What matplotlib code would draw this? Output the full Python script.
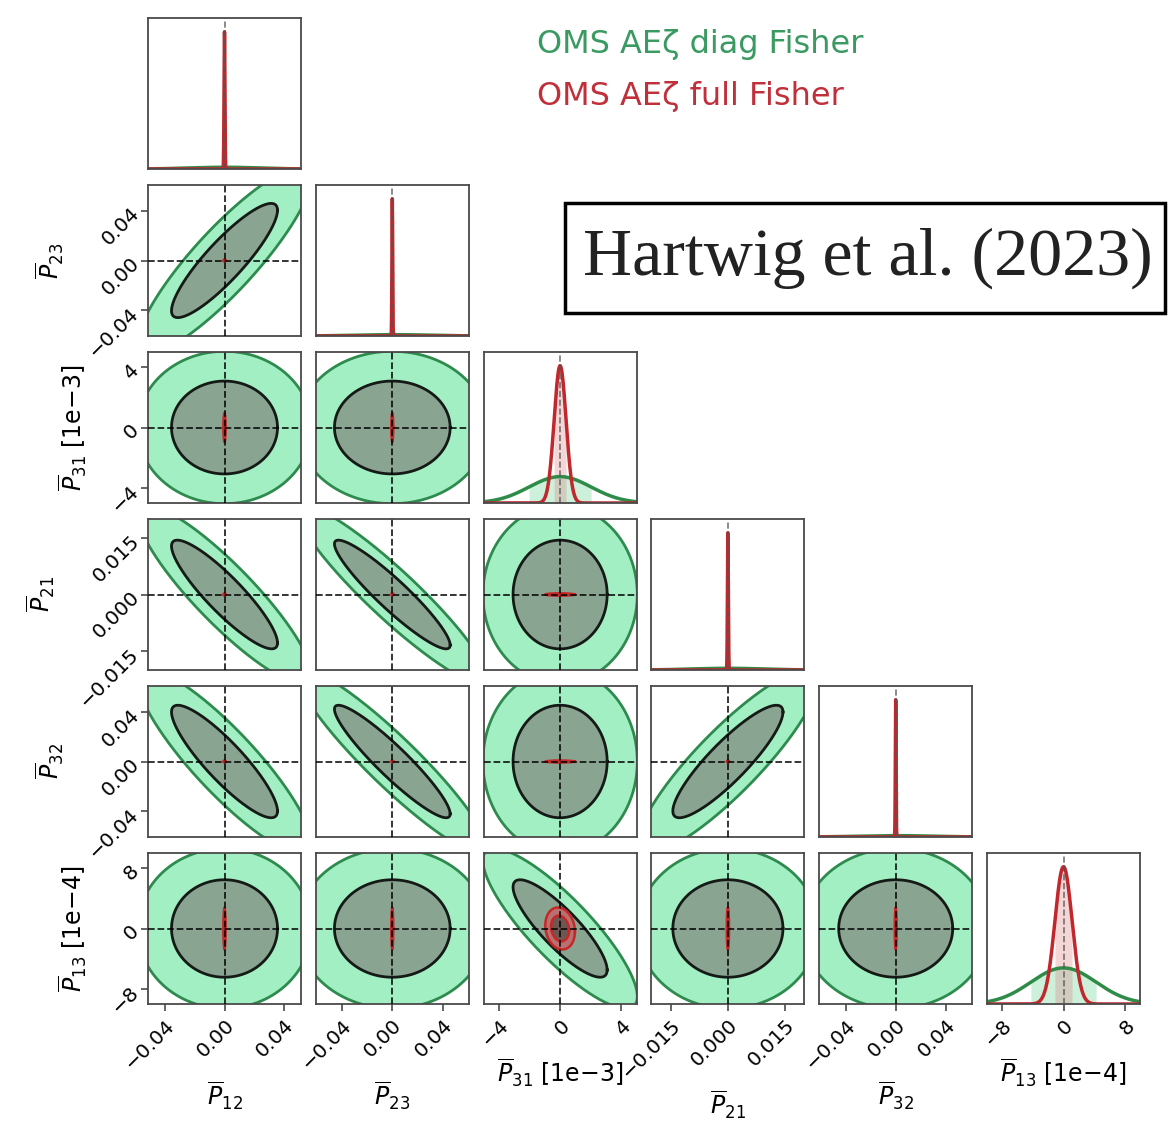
import numpy as np
import matplotlib
matplotlib.use("Agg")
import matplotlib.pyplot as plt
from matplotlib.patches import Rectangle

# ---------------- data ----------------
params = ["P12", "P23", "P31", "P21", "P32", "P13"]
axis_labels = [r"$\overline{P}_{12}$", r"$\overline{P}_{23}$",
               r"$\overline{P}_{31}$ [1e$-$3]", r"$\overline{P}_{21}$",
               r"$\overline{P}_{32}$", r"$\overline{P}_{13}$ [1e$-$4]"]
truth = [0.0, 0.0, 0.0, 0.0, 0.0, 0.0]
# marginal standard deviations (P31 in 1e-3, P13 in 1e-4 units)
sigma_diag = [0.0235, 0.0302, 2.03, 0.00955, 0.0300, 4.26]
sigma_full = [0.0003, 0.0003, 0.39, 0.00012, 0.0003, 1.12]
# correlation coefficients (pairs not listed are zero)
corr_diag = {(0, 1): 0.88, (0, 3): -0.89, (0, 4): -0.88, (1, 3): -0.93,
             (1, 4): -0.93, (3, 4): 0.88, (2, 5): -0.85}
corr_full = {(2, 5): -0.15}
half_range = [0.0514, 0.0605, 5.0, 0.0201, 0.061, 10.0]
tick_values = [[-0.04, 0, 0.04], [-0.04, 0, 0.04], [-4, 0, 4],
               [-0.015, 0, 0.015], [-0.04, 0, 0.04], [-8, 0, 8]]
tick_labels = [["−0.04", "0.00", "0.04"], ["−0.04", "0.00", "0.04"],
               ["−4", "0", "4"], ["−0.015", "0.000", "0.015"],
               ["−0.04", "0.00", "0.04"], ["−8", "0", "8"]]
legend_names = ["OMS AEζ diag Fisher", "OMS AEζ full Fisher"]
levels = [0.6827, 0.9545]
citation = "Hartwig et al. (2023)"

# ---------------- styles ----------------
styles = [
    dict(line="#2e8b48", fill1d="#6fd497", fill_alpha=0.35, out_fill="#a3efc4", out_edge="#2e8b4e",
         in_fill="#89a592", in_edge="#151a16", text="#3a9a62", lw2d=2.0),
    dict(line="#c0282d", fill1d="#e08a8a", fill_alpha=0.35, out_fill="#b87070", out_edge="#c62828",
         in_fill="#6e5652", in_edge="#c62828", text="#c0303a", lw2d=1.8),
]


def cov_matrix(sig, corr):
    c = np.diag(np.array(sig, float) ** 2)
    for (i, j), r in corr.items():
        c[i, j] = c[j, i] = r * sig[i] * sig[j]
    return c


covs = [cov_matrix(sigma_diag, corr_diag), cov_matrix(sigma_full, corr_full)]
sigmas = [sigma_diag, sigma_full]

W, H = 1168, 1123
fig = plt.figure(figsize=(W / 100, H / 100), dpi=100)

n = len(params)
left0, xstep, pw = 148, 167.8, 153
top0, ystep, ph = 18, 167.0, 151

t = np.linspace(0, 2 * np.pi, 400)
circ = np.vstack([np.cos(t), np.sin(t)])
radii = [np.sqrt(-2 * np.log(1 - p)) for p in levels]

tick_fs = 14.5
label_fs = 17

for row in range(n):
    for col in range(row + 1):
        l = left0 + col * xstep
        tp = top0 + row * ystep
        ax = fig.add_axes([l / W, 1 - (tp + ph) / H, pw / W, ph / H])
        for s in ax.spines.values():
            s.set_color("#4a4a4a")
            s.set_linewidth(1.3)
        ax.set_xlim(truth[col] - half_range[col], truth[col] + half_range[col])
        if row == col:
            x = np.linspace(-half_range[col], half_range[col], 8001) + truth[col]
            ymax = 0
            for k in range(2):
                sg = sigmas[k][col]
                pdf = np.exp(-0.5 * ((x - truth[col]) / sg) ** 2) / (sg * np.sqrt(2 * np.pi))
                ymax = max(ymax, pdf.max())
                m = np.abs(x - truth[col]) <= sg
                ax.fill_between(x[m], 0, pdf[m], color=styles[k]["fill1d"],
                                alpha=styles[k]["fill_alpha"], lw=0)
                ax.plot(x, pdf, color=styles[k]["line"], lw=2.5)
            ax.set_ylim(0, 1.1 * ymax)
            ax.axvline(truth[col], color="#555555", ls="--", lw=1.2, alpha=0.8)
            ax.set_yticks([])
        else:
            ax.set_ylim(truth[row] - half_range[row], truth[row] + half_range[row])
            for k in range(2):
                st = styles[k]
                c2 = covs[k][np.ix_([col, row], [col, row])]
                L = np.linalg.cholesky(c2)
                pts = L @ circ
                outer = pts * radii[1]
                inner = pts * radii[0]
                ax.fill(outer[0] + truth[col], outer[1] + truth[row], color=st["out_fill"], lw=0, zorder=2 + 2 * k)
                ax.plot(outer[0] + truth[col], outer[1] + truth[row], color=st["out_edge"], lw=st["lw2d"], zorder=2 + 2 * k)
                ax.fill(inner[0] + truth[col], inner[1] + truth[row], color=st["in_fill"], lw=0, zorder=3 + 2 * k)
                ax.plot(inner[0] + truth[col], inner[1] + truth[row], color=st["in_edge"], lw=st["lw2d"], zorder=3 + 2 * k)
            ax.axvline(truth[col], color="black", ls="--", lw=1.3, alpha=0.85, zorder=10)
            ax.axhline(truth[row], color="black", ls="--", lw=1.3, alpha=0.85, zorder=10)
            if col == 0:
                ax.set_yticks(tick_values[row])
                ax.set_yticklabels(tick_labels[row], fontsize=tick_fs)
                for lab in ax.get_yticklabels():
                    lab.set_rotation(45)
                    lab.set_rotation_mode("anchor")
                    lab.set_ha("right")
                    lab.set_va("center")
                ax.set_ylabel(axis_labels[row], fontsize=label_fs, labelpad=14)
            else:
                ax.set_yticks([])
        if row == n - 1:
            ax.set_xticks(tick_values[col])
            ax.set_xticklabels(tick_labels[col], fontsize=tick_fs)
            for lab in ax.get_xticklabels():
                lab.set_rotation(45)
                lab.set_rotation_mode("anchor")
                lab.set_ha("right")
                lab.set_va("top")
            ax.set_xlabel(axis_labels[col], fontsize=label_fs, labelpad=5)
        else:
            ax.set_xticks([])
        ax.tick_params(direction="out", length=5, width=1.2, color="#4a4a4a")

# legend texts
fig.text(537 / W, 1 - 45 / H, legend_names[0], color=styles[0]["text"], fontsize=23,
         ha="left", va="center")
fig.text(537 / W, 1 - 97 / H, legend_names[1], color=styles[1]["text"], fontsize=23,
         ha="left", va="center")

# citation box
fig.patches.append(Rectangle((565 / W, 1 - 313 / H), 600 / W, 110 / H, transform=fig.transFigure,
                             fill=False, edgecolor="black", lw=2.5))
fig.text(868 / W, 1 - 258 / H, citation, fontsize=49, family="Liberation Serif",
         ha="center", va="center", color="#222222")

fig.savefig("out.png", dpi=100)
